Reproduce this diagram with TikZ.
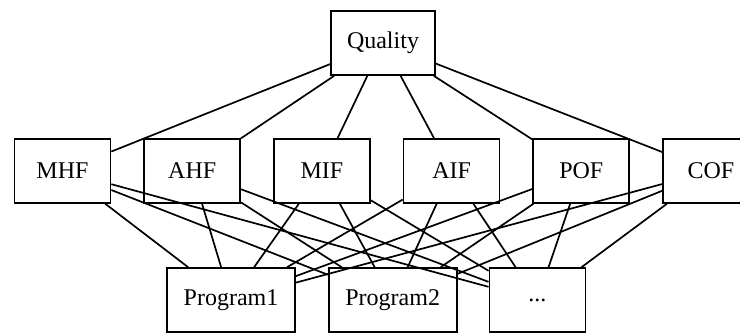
\documentclass[tikz,border=0pt]{standalone}
\usepackage{fontspec}
\setmainfont{Liberation Serif}
\usetikzlibrary{positioning}
\tikzset{
  box/.style   ={draw, line width=1.7pt, inner sep=0pt, minimum height=64pt,
                 font=\fontsize{24}{28}\selectfont},
  crit/.style  ={box, minimum width=96pt},
  prog/.style  ={box, minimum width=128pt},
  link/.style  ={line width=1.7pt},
}
\begin{document}
\begin{tikzpicture}[x=1pt, y=1pt, node distance=32pt and 32pt]
  \useasboundingbox (0,0) rectangle (740,-333);
  % top
  \node[box, minimum width=104pt] (q) at (383,-43) {Quality};
  % criteria row
  \node[crit] (mhf) at (62.5,-171) {MHF};
  \node[crit, right=of mhf] (ahf) {AHF};
  \node[crit, right=of ahf] (mif) {MIF};
  \node[crit, right=of mif] (aif) {AIF};
  \node[crit, right=of aif] (pof) {POF};
  \node[crit, right=of pof] (cof) {COF};
  % programs
  \node[prog] (p1) at (231,-300) {Program1};
  \node[prog, right=of p1] (p2) {Program2};
  \node[crit, right=31pt of p2] (pn) {...};
  \foreach \c in {mhf,ahf,mif,aif,pof,cof}{
    \draw[link] (q) -- (\c);
    \foreach \p in {p1,p2,pn}
      \draw[link] (\c) -- (\p);
  }
\end{tikzpicture}
\end{document}
